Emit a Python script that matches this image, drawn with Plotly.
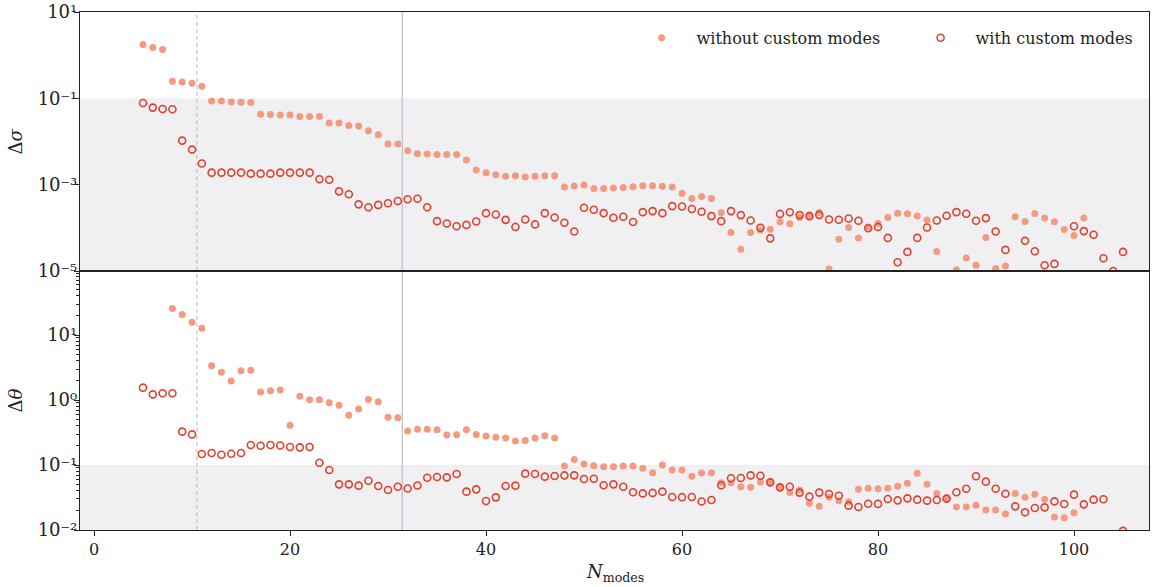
import plotly.graph_objects as go
from plotly.subplots import make_subplots

N_modes = list(range(5, 106))

# Delta sigma, without custom modes (filled), N = 5..105
dsigma_without = [
    1.77, 1.51, 1.36, 0.248, 0.24, 0.223, 0.19, 0.087, 0.087, 0.082,
    0.081, 0.080, 0.0425, 0.042, 0.041, 0.041, 0.038, 0.038, 0.038, 0.027,
    0.027, 0.0235, 0.023, 0.0177, 0.0143, 0.0088, 0.0088, 0.0061, 0.0052, 0.0051,
    0.0050, 0.0050, 0.0050, 0.00375, 0.0022, 0.0019, 0.0017, 0.00156, 0.0016, 0.0015,
    0.00156, 0.0016, 0.0016, 0.00088, 0.00093, 0.00098, 0.00081, 0.00082, 0.00084, 0.00086,
    0.00090, 0.00095, 0.00095, 0.00092, 0.00088, 0.00063, 0.00048, 0.00053, 0.00048, 0.000223,
    7.8e-5, 3.2e-5, 7.8e-5, 8.8e-5, 9.3e-5, 1.38e-4, 1.24e-4, 1.74e-4, 1.97e-4, 2.28e-4,
    1.11e-5, 5.45e-5, 1.02e-4, 5.85e-5, 1.05e-4, 1.26e-4, 1.74e-4, 2.19e-4, 2.12e-4, 1.87e-4,
    1.51e-4, 2.82e-5, None, 1.07e-5, 2.0e-5, 1.36e-5, 5.96e-5, 1.15e-5, 1.31e-5, 1.8e-4,
    1.4e-4, 2.16e-4, 1.68e-4, 1.38e-4, 9.1e-5, 6.6e-5, 1.68e-4, None, None, None,
    None,
]

# Delta sigma, with custom modes (open), N = 5..105
dsigma_with = [
    0.078, 0.061, 0.0565, 0.056, 0.0105, 0.0065, 0.0031, 0.0019, 0.0019, 0.0019,
    0.0019, 0.0018, 0.0018, 0.0018, 0.0019, 0.0019, 0.0019, 0.0019, 0.00133, 0.0013,
    0.0007, 0.0006, 0.00035, 0.0003, 0.00034, 0.00037, 0.00042, 0.00046, 0.00047, 0.0003,
    1.43e-4, 1.26e-4, 1.09e-4, 1.17e-4, 1.40e-4, 2.19e-4, 2.04e-4, 1.53e-4, 1.05e-4, 1.56e-4,
    1.20e-4, 2.19e-4, 1.74e-4, 1.31e-4, 8.2e-5, 2.92e-4, 2.62e-4, 2.19e-4, 1.71e-4, 1.80e-4,
    1.36e-4, 2.31e-4, 2.44e-4, 2.19e-4, 3.19e-4, 3.13e-4, 2.72e-4, 2.36e-4, 1.87e-4, 1.43e-4,
    2.44e-4, 1.97e-4, 1.48e-4, 1.0e-4, 5.7e-5, 2.1e-4, 2.3e-4, 1.97e-4, 1.87e-4, 2.0e-4,
    1.56e-4, 1.54e-4, 1.65e-4, 1.46e-4, 9.8e-5, 1.05e-4, 5.85e-5, 1.59e-5, 2.77e-5, 5.85e-5,
    1.02e-4, 1.48e-4, 1.9e-4, 2.31e-4, 2.12e-4, 1.46e-4, 1.68e-4, 8.2e-5, 3.08e-5, None,
    5.0e-5, 2.87e-5, 1.36e-5, 1.46e-5, None, 1.09e-4, 8.4e-5, 6.9e-5, 1.97e-5, 1.0e-5,
    2.77e-5,
]

# Delta theta, without custom modes (filled), N = 5..105
dtheta_without = [
    None, None, None, 25.7, 20.6, 15.7, 12.7, 3.37, 2.67, 1.96,
    2.83, 2.86, 1.33, 1.39, 1.43, 0.408, 1.14, 1.01, 1.01, 0.91,
    0.828, 0.581, 0.727, 1.02, 0.942, 0.541, 0.535, 0.334, 0.354, 0.354,
    0.350, 0.290, 0.293, 0.350, 0.296, 0.279, 0.267, 0.260, 0.234, 0.239,
    0.260, 0.283, 0.260, 0.0966, 0.122, 0.1035, 0.0977, 0.0942, 0.0942, 0.0966,
    0.0966, 0.0889, 0.0762, 0.1, 0.0838, 0.0838, 0.067, 0.0754, 0.0762, 0.0535,
    0.0535, 0.0464, 0.0453, 0.0547, 0.0555, 0.0464, 0.0376, 0.0413, 0.0257, 0.0231,
    0.0318, 0.0283, 0.0273, 0.0422, 0.0438, 0.0432, 0.0438, 0.0470, 0.0523, 0.0745,
    0.0504, 0.0366, 0.0307, 0.0226, 0.0226, 0.0240, 0.0203, 0.0203, 0.0176, 0.0366,
    0.0318, 0.0354, 0.0297, 0.0158, 0.0155, 0.0185, None, None, None, None,
    None,
]

# Delta theta, with custom modes (open), N = 5..105
dtheta_with = [
    1.55, 1.22, 1.27, 1.27, 0.326, 0.296, 0.148, 0.153, 0.144, 0.149,
    0.153, 0.203, 0.198, 0.203, 0.200, 0.189, 0.187, 0.189, 0.1086, 0.0838,
    0.0504, 0.0504, 0.0481, 0.0574, 0.0475, 0.0413, 0.0464, 0.0435, 0.0484, 0.0638,
    0.0654, 0.0646, 0.0727, 0.0389, 0.0422, 0.0279, 0.0318, 0.0475, 0.0481, 0.0736,
    0.0727, 0.0662, 0.0677, 0.0693, 0.0693, 0.0609, 0.0616, 0.0487, 0.0504, 0.0464,
    0.0380, 0.0366, 0.0372, 0.0389, 0.0322, 0.032, 0.0322, 0.0275, 0.0290, 0.0487,
    0.0624, 0.0631, 0.0693, 0.0685, 0.0541, 0.0453, 0.0464, 0.0376, 0.0326, 0.0376,
    0.0358, 0.0337, 0.0237, 0.0226, 0.0254, 0.0252, 0.0300, 0.0286, 0.0307, 0.0293,
    0.0283, 0.0290, 0.0304, 0.0380, 0.0432, 0.0670, 0.0555, 0.0432, 0.0362, 0.0231,
    0.0187, 0.0218, 0.0223, 0.0276, 0.0251, 0.0350, 0.0248, 0.0293, 0.0297, None,
    0.0097,
]

vline_dashed = 10.5
vline_solid = 31.45
threshold = 0.1

x_ticks = [0, 20, 40, 60, 80, 100]
sigma_ticks = [1e-5, 1e-3, 1e-1, 1e1]
sigma_ticktext = ["10\u207b\u2075", "10\u207b\u00b3", "10\u207b\u00b9", "10\u00b9"]
theta_ticks = [1e-2, 1e-1, 1e0, 1e1]
theta_ticktext = ["10\u207b\u00b2", "10\u207b\u00b9", "10\u2070", "10\u00b9"]
theta_minor = [m * d for d in (0.01, 0.1, 1, 10) for m in range(2, 10)]

FILL = "#F29B81"
EDGE = "#E4402E"
FONT = "DejaVu Serif"
INK = "#222"

fig = make_subplots(rows=2, cols=1, shared_xaxes=True, vertical_spacing=0.0)

# shaded regions below the threshold
fig.add_shape(type="rect", xref="x domain", yref="y", x0=0, x1=1, y0=1e-5, y1=threshold,
              fillcolor="#F0F0F3", line=dict(width=0), layer="below")
fig.add_shape(type="rect", xref="x2 domain", yref="y2", x0=0, x1=1, y0=1e-2, y1=threshold,
              fillcolor="#F0F0F3", line=dict(width=0), layer="below")

# vertical reference lines
for xv, dash, col in [(vline_dashed, "4px,3px", "#C4C4C4"), (vline_solid, "solid", "#BBBBCC")]:
    for yref in ["y domain", "y2 domain"]:
        fig.add_shape(type="line", xref="x", yref=yref, x0=xv, x1=xv, y0=0, y1=1,
                      line=dict(color=col, width=1.2, dash=dash), layer="below")

fig.add_trace(go.Scatter(x=N_modes, y=dsigma_without, mode="markers", name="without custom modes",
                         marker=dict(size=7, color=FILL, line=dict(width=0)),
                         legendgroup="a"), row=1, col=1)
fig.add_trace(go.Scatter(x=N_modes, y=dsigma_with, mode="markers", name="with custom modes",
                         marker=dict(size=7, color="rgba(0,0,0,0)", line=dict(width=1.6, color=EDGE)),
                         legendgroup="b"), row=1, col=1)
fig.add_trace(go.Scatter(x=N_modes, y=dtheta_without, mode="markers", showlegend=False,
                         marker=dict(size=7, color=FILL, line=dict(width=0)),
                         legendgroup="a"), row=2, col=1)
fig.add_trace(go.Scatter(x=N_modes, y=dtheta_with, mode="markers", showlegend=False,
                         marker=dict(size=7, color="rgba(0,0,0,0)", line=dict(width=1.6, color=EDGE)),
                         legendgroup="b"), row=2, col=1)

axis_common = dict(showline=True, mirror=True, linecolor=INK, linewidth=1.2, automargin=False,
                   showgrid=False, zeroline=False, ticks="outside", ticklen=5,
                   tickcolor=INK, tickfont=dict(family=FONT, size=16, color=INK))

fig.update_xaxes(range=[-1.43, 107.65], **axis_common)
fig.update_xaxes(showticklabels=False, ticks="", row=1, col=1)
fig.update_xaxes(tickvals=x_ticks, row=2, col=1)

ytick_font = dict(family=FONT, size=18, color=INK)
fig.update_yaxes(type="log", range=[-5, 1], tickvals=sigma_ticks, ticktext=sigma_ticktext,
                 row=1, col=1, **axis_common)
fig.update_yaxes(type="log", range=[-2, 1.985], tickvals=theta_ticks, ticktext=theta_ticktext,
                 minor=dict(tickmode="array", tickvals=theta_minor, ticks="outside", ticklen=3,
                            tickcolor=INK, showgrid=False),
                 row=2, col=1, **axis_common)
fig.update_yaxes(tickfont=ytick_font, ticklabelstandoff=-7)

# axis titles as annotations
fig.add_annotation(text="\u0394<i>\u03c3</i>", xref="paper", yref="y domain", x=0, y=0.5,
                   xshift=-65, xanchor="center", yanchor="middle", textangle=-90, showarrow=False,
                   font=dict(family=FONT, size=18, color=INK))
fig.add_annotation(text="\u0394<i>\u03b8</i>", xref="paper", yref="y2 domain", x=0, y=0.5,
                   xshift=-65, xanchor="center", yanchor="middle", textangle=-90, showarrow=False,
                   font=dict(family=FONT, size=18, color=INK))
fig.add_annotation(text="<i>N</i><sub>modes</sub>", xref="x2 domain", yref="paper", x=0.5, y=0,
                   yshift=-43, xanchor="center", yanchor="middle", showarrow=False,
                   font=dict(family=FONT, size=18, color=INK))

fig.update_layout(
    width=1158, height=587,
    margin=dict(l=80, r=9, t=12, b=57, autoexpand=False),
    plot_bgcolor="white", paper_bgcolor="white",
    font=dict(family=FONT, size=16, color=INK),
    legend=dict(orientation="h", x=1.0333, xanchor="right", y=0.983, yanchor="top",
                font=dict(family=FONT, size=16, color=INK), bgcolor="rgba(0,0,0,0)",
                itemwidth=60, entrywidth=204, entrywidthmode="pixels"),
    showlegend=True,
)

fig.write_html("out.html", post_script="document.body.style.margin='0';",
               config={"displayModeBar": False})
